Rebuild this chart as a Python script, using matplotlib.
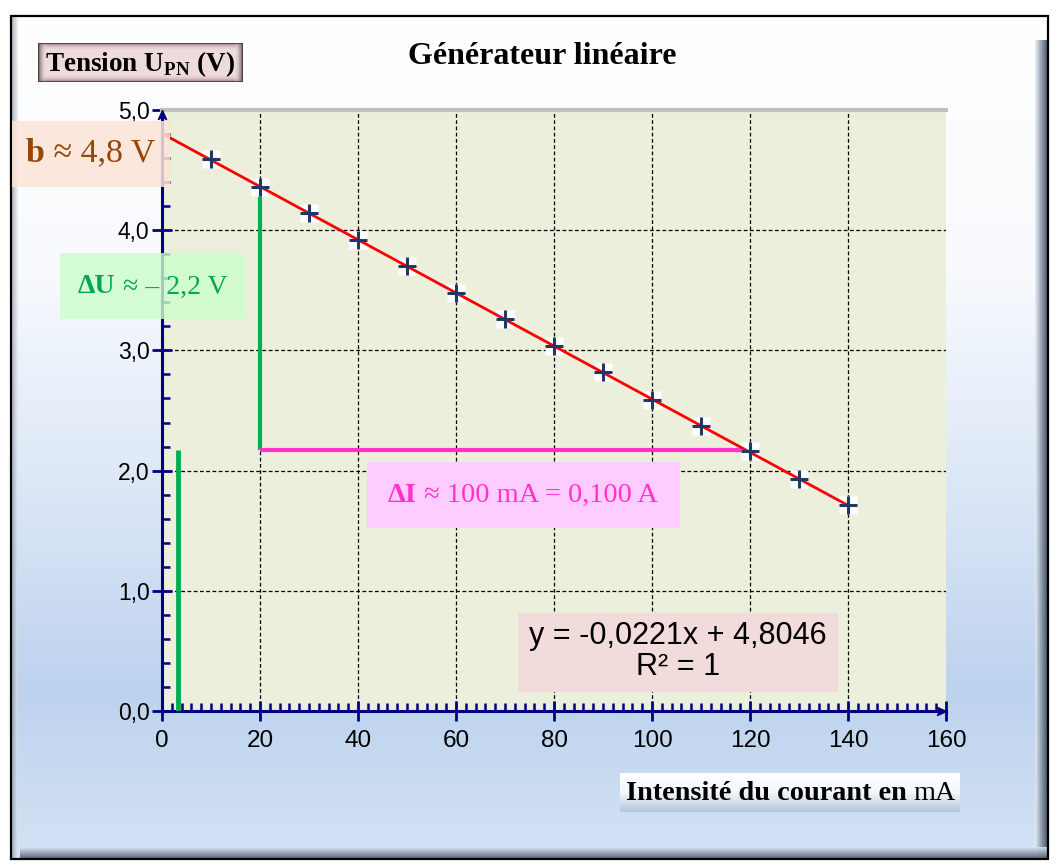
import numpy as np
import matplotlib
matplotlib.use("Agg")
import matplotlib.pyplot as plt
from matplotlib import font_manager as fm
from matplotlib.patches import Rectangle
from matplotlib.colors import LinearSegmentedColormap

# ---- data ----
intensity_mA = [10, 20, 30, 40, 50, 60, 70, 80, 90, 100, 110, 120, 130, 140]
tension_V = [4.59, 4.36, 4.14, 3.92, 3.70, 3.48, 3.26, 3.04, 2.82, 2.59, 2.37, 2.16, 1.93, 1.71]
slope = -0.0221
intercept = 4.8046
fit_x = [0, 140]
xticks = [0, 20, 40, 60, 80, 100, 120, 140, 160]
yticks = [0.0, 1.0, 2.0, 3.0, 4.0, 5.0]
delta_u_x = 20
delta_u_top = 4.36
level_y = 2.17
delta_i_end = 120
green_bar_x = 3.3

W, H = 1058, 868
fig = plt.figure(figsize=(W / 100, H / 100), dpi=100)
plt.rcParams['mathtext.fontset'] = 'custom'
plt.rcParams['mathtext.bf'] = 'Liberation Serif:bold'
plt.rcParams['mathtext.rm'] = 'Liberation Serif'

names = {f.name for f in fm.fontManager.ttflist}
narrow = 'Liberation Sans Narrow' if 'Liberation Sans Narrow' in names else 'Liberation Sans'
SERIF = 'Liberation Serif'
SANS = 'Liberation Sans'

def fx(px):
    return px / W

def fy(py):
    return 1 - py / H

renderer = fig.canvas.get_renderer()

def pieces(x_px, y_px, parts, size, color='black', z=11):
    """Draw adjacent text pieces [(text, weight), ...] starting at x_px."""
    x = x_px
    for txt, weight in parts:
        t = fig.text(fx(x), fy(y_px), txt, ha='left', va='center', fontfamily=SERIF,
                     fontweight=weight, fontsize=size, color=color, zorder=z)
        bb = t.get_window_extent(renderer=renderer)
        x += bb.width

# ---- background ----
bg = fig.add_axes([0, 0, 1, 1], zorder=-10)
bg.set_xlim(0, W)
bg.set_ylim(H, 0)
bg.axis('off')
stops = [(0.0, '#FFFFFF'), (0.30, '#F8FAFD'), (0.55, '#DDE8F7'), (0.80, '#BDD2EE'), (1.0, '#D4E3F5')]
cmap = LinearSegmentedColormap.from_list('bgc', stops)
grad = np.linspace(0, 1, 400).reshape(-1, 1)
bg.imshow(grad, cmap=cmap, aspect='auto', extent=[11, 1048, 859, 16], zorder=0)
bg.imshow(np.linspace(0, 1, 50).reshape(1, -1), cmap=LinearSegmentedColormap.from_list('r', ['#E8EEF6', '#8A97A8', '#3A4350']),
          aspect='auto', extent=[1035, 1047, 859, 40], zorder=1, alpha=0.85)
bg.imshow(np.linspace(0, 1, 50).reshape(-1, 1), cmap=LinearSegmentedColormap.from_list('b', ['#D4E3F5', '#98A6B8', '#55606E']),
          aspect='auto', extent=[20, 1047, 858, 847], zorder=1, alpha=0.9)
bg.imshow(np.linspace(0, 1, 50).reshape(1, -1), cmap=LinearSegmentedColormap.from_list('l', ['#7F8894', '#E6ECF4']),
          aspect='auto', extent=[12, 18, 858, 17], zorder=1, alpha=0.6)
bg.add_patch(Rectangle((11, 16), 1037, 843, fill=False, ec='black', lw=1.6, zorder=3))

# ---- main axes ----
ax = fig.add_axes([fx(162), fy(711), fx(946) - fx(162), fy(110) - fy(711)])
ax.set_facecolor('#EBEFDC')
ax.set_xlim(0, 160)
ax.set_ylim(0, 5)
navy = '#000080'
for s in ['left', 'bottom']:
    ax.spines[s].set_color(navy)
    ax.spines[s].set_linewidth(2.2)
ax.spines['right'].set_visible(False)
ax.spines['top'].set_color('#C0C0C0')
ax.spines['top'].set_linewidth(3)

ax.set_xticks(xticks)
ax.set_yticks(yticks)
ax.set_xticks(np.arange(0, 161, 2), minor=True)
ax.set_yticks(np.arange(0, 5.01, 0.2), minor=True)
ax.set_xticklabels([str(v) for v in xticks], fontfamily=narrow, fontsize=17.5)
ax.set_yticklabels([f"{v:.1f}".replace('.', ',') for v in yticks], fontfamily=SANS, fontsize=16.5)
ax.tick_params(which='major', direction='inout', length=14, width=2, color=navy)
ax.tick_params(which='minor', direction='in', length=6, width=1.8, color=navy)
ax.tick_params(axis='y', which='major', pad=2)
ax.tick_params(axis='x', which='major', pad=7)

for gx in xticks[1:-1]:
    ax.axvline(gx, color='black', lw=0.9, ls=(0, (3, 2)), zorder=1)
for gy in yticks[1:-1]:
    ax.axhline(gy, color='black', lw=0.9, ls=(0, (3, 2)), zorder=1)

up_arrow = [(0, 0), (-0.45, -1), (0, -0.75), (0.45, -1), (0, 0)]
right_arrow = [(0, 0), (-1, 0.45), (-0.75, 0), (-1, -0.45), (0, 0)]
ax.plot([0], [5], marker=up_arrow, ms=13, color=navy, clip_on=False, zorder=6)
ax.plot([160], [0], marker=right_arrow, ms=13, color=navy, clip_on=False, zorder=6)

ax.plot([delta_u_x, delta_u_x], [level_y, delta_u_top], color='#00B050', lw=3, zorder=3, solid_capstyle='butt')
ax.plot([delta_u_x, delta_i_end], [level_y, level_y], color='#FF33CC', lw=3, zorder=3, solid_capstyle='butt')
ax.plot([green_bar_x, green_bar_x], [0, level_y], color='#00B050', lw=3.5, zorder=3, solid_capstyle='butt')

fx_arr = np.array(fit_x, dtype=float)
ax.plot(fx_arr, slope * fx_arr + intercept, color='#FF0000', lw=2, zorder=5)

ax.plot(intensity_mA, tension_V, ls='none', marker='s', ms=13, mfc='white', mec='none', zorder=4)
ax.plot(intensity_mA, tension_V, ls='none', marker='+', ms=12.5, mew=2.2, color='#1F3864', zorder=6)

# ---- annotations ----
def box(x0, y0, x1, y1, color, alpha=1.0, z=8):
    fig.patches.append(Rectangle((fx(x0), fy(y1)), fx(x1) - fx(x0), fy(y0) - fy(y1),
                                 transform=fig.transFigure, fc=color, ec='none', alpha=alpha, zorder=z))

fig.text(fx(542), fy(56), "Générateur linéaire", ha='center', va='center',
         fontfamily=SERIF, fontweight='bold', fontsize=23, zorder=10)

# Tension button
tb = fig.add_axes([fx(38), fy(82), fx(243) - fx(38), fy(43) - fy(82)], zorder=9)
tb.axis('off')
tb.set_xlim(0, 1)
tb.set_ylim(0, 1)
gv = np.linspace(0, 1, 100)
vert = np.clip(np.minimum(gv, 1 - gv) * 6, 0, 1)
tb.imshow(vert.reshape(-1, 1) * np.ones((1, 10)),
          cmap=LinearSegmentedColormap.from_list('p', ['#957D7F', '#DCC3C5', '#EEDBDC']),
          aspect='auto', extent=[0, 1, 0, 1])
horiz = np.clip(np.minimum(gv, 1 - gv) * 25, 0, 1)
tb.imshow(horiz.reshape(1, -1) * np.ones((10, 1)),
          cmap=LinearSegmentedColormap.from_list('p2', [(0.45, 0.36, 0.38, 0.9), (1, 1, 1, 0)]),
          aspect='auto', extent=[0, 1, 0, 1])
tb.add_patch(Rectangle((0, 0), 1, 1, fill=False, ec='#4A3B3D', lw=1.2))
fig.text(fx(140), fy(64), r"Tension U$_{\mathbf{PN}}$ (V)", ha='center', va='center',
         fontfamily=SERIF, fontweight='bold', fontsize=19.5, zorder=11)

# b box
box(12, 121, 170, 187, '#FCE4D6', alpha=0.85)
brown = '#974806'
pieces(26, 153, [("b", 'bold'), (" ≈ 4,8 V", 'normal')], 24.5, color=brown)

# Delta U box
box(60, 253, 245, 319, '#CCFFCC', alpha=0.8)
pieces(78, 287, [("ΔU", 'bold'), (" ≈ – 2,2 V", 'normal')], 20, color='#00A650')

# Delta I box
box(367, 462, 680, 528, '#FFCCFF')
pieces(388, 495, [("ΔI", 'bold'), (" ≈ 100 mA = 0,100 A", 'normal')], 20.5, color='#FF33CC')

# Equation box
box(518, 613, 838, 692, '#F2DCDB')
fig.text(fx(678), fy(636), "y = -0,0221x + 4,8046", ha='center', va='center', fontfamily=SANS,
         fontsize=22, color='black', zorder=11)
fig.text(fx(678), fy(667), "R² = 1", ha='center', va='center', fontfamily=SANS,
         fontsize=22, color='black', zorder=11)

# X-axis label box
xb = fig.add_axes([fx(620), fy(812), fx(960) - fx(620), fy(773) - fy(812)], zorder=9)
xb.axis('off')
xb.imshow(np.linspace(0, 1, 100).reshape(-1, 1),
          cmap=LinearSegmentedColormap.from_list('xg', ['#FFFFFF', '#F4F7FB', '#B5C6DE']),
          aspect='auto', extent=[0, 1, 0, 1])
xb.set_xlim(0, 1)
xb.set_ylim(0, 1)
pieces(626, 794, [("Intensité du courant en ", 'bold'), ("mA", 'normal')], 20.3)

fig.savefig('out.png', dpi=100)
